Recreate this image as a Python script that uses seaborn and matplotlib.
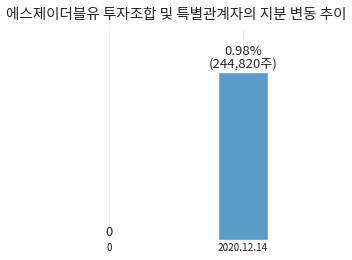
import matplotlib
matplotlib.use("Agg")
import matplotlib.pyplot as plt
import seaborn as sns
import pandas as pd

categories = ["0", "2020.12.14"]
ratios = [0, 0.98]
shares = [0, 244820]
bar_labels = ["0", "0.98%\n(244,820주)"]

sns.set_style("white")
plt.rcParams['font.family'] = ['Noto Sans CJK KR', 'DejaVu Sans']

df = pd.DataFrame({"date": categories, "ratio": ratios})

fig = plt.figure(figsize=(3.52, 2.6), dpi=100)
ax = fig.add_axes([0.119, 0.077, 0.762, 0.808])
sns.barplot(data=df, x="date", y="ratio", color="#5a9bc9", width=0.37, ax=ax, saturation=1)
ax.set_xlim(-0.5, 1.5)
ax.set_ylim(0, 1.225)
ax.grid(axis="x", color="#eeeeee", linewidth=0.8)
ax.set_axisbelow(True)
for s in ax.spines.values():
    s.set_visible(False)
ax.set_yticks([])
ax.set_xlabel("")
ax.set_ylabel("")
ax.tick_params(axis="x", length=0, labelsize=7.2, pad=2)
for i, (v, lab) in enumerate(zip(ratios, bar_labels)):
    ax.annotate(lab, (i, v), xytext=(0, 1), textcoords="offset points",
                ha="center", va="bottom", fontsize=9.5, linespacing=0.95)
fig.suptitle("에스제이더블유 투자조합 및 특별관계자의 지분 변동 추이", fontsize=10.5, y=0.97)
fig.savefig("out.png", dpi=100)
